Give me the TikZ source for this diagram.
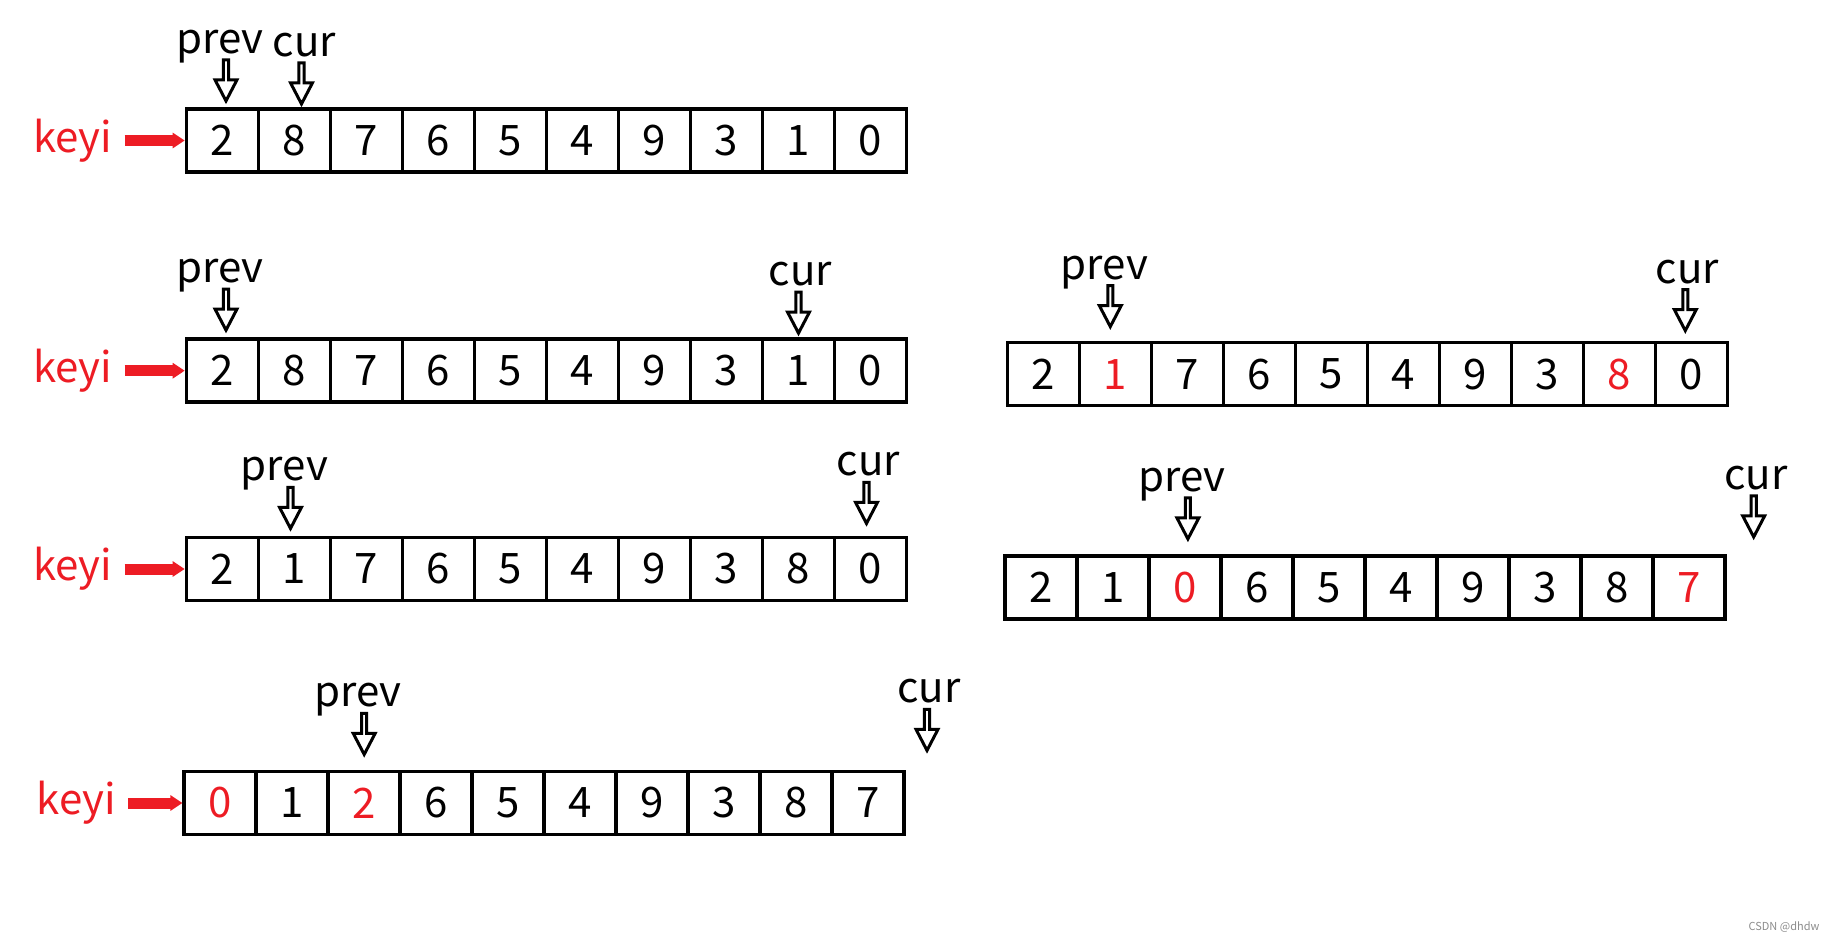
\documentclass[tikz,border=0pt]{standalone}
\usepackage{fontspec}
\setmainfont{Noto Sans CJK SC}
\usetikzlibrary{positioning,shapes.arrows,arrows.meta}
\definecolor{keyred}{RGB}{237,28,36}
\newcommand{\numfont}{\fontsize{21}{24}\selectfont}

\begin{document}
\begin{tikzpicture}[x=0.5pt,y=-0.5pt,
    cell/.style={draw, line width=1.8pt, minimum width=36pt, minimum height=31.5pt, inner sep=0pt, font=\numfont},
    ptr/.style={draw, line width=1.5pt, single arrow, shape border rotate=270, minimum height=20.5pt, minimum width=11pt, single arrow head extend=2.5pt, single arrow head indent=0pt, single arrow tip angle=55, inner sep=0pt, anchor=tip},
    lbl/.style={font=\numfont, anchor=base, inner sep=0pt},
    keylbl/.style={text=keyred, font=\numfont, inner sep=0pt},
    keyarr/.style={keyred, line width=5.5pt, -{Triangle[length=6pt,width=7.5pt]}, shorten <=6pt}]
  \useasboundingbox (0,0) rectangle (1828,941);

  % row 1
  \foreach \v/\c [count=\j from 0] in {2/black,8/black,7/black,6/black,5/black,4/black,9/black,3/black,1/black,0/black}
  {
    \node[cell, text=\c] (a\j) at (222.5+72*\j,140.5) {\v};
  }
  \node[keylbl, left=36pt of a0] (ka) {keyi};
  \draw[keyarr] (ka) -- (a0);
  \node[ptr] (pa) at ([xshift=1.75pt,yshift=1.5pt]a0.north) {};
  \node[ptr] (ca) at ([xshift=3.5pt]a1.north) {};
  \node[lbl] (pla) at ([xshift=-3pt,yshift=2.5pt]pa.tail) {prev};
  \node[lbl] (cla) at ([xshift=1.5pt,yshift=2.5pt]ca.tail) {cur};

  % row 2
  \foreach \v/\c [count=\j from 0] in {2/black,8/black,7/black,6/black,5/black,4/black,9/black,3/black,1/black,0/black}
  {
    \node[cell, text=\c] (b\j) at (222.5+72*\j,370.7) {\v};
  }
  \node[keylbl, left=36pt of b0] (kb) {keyi};
  \draw[keyarr] (kb) -- (b0);
  \node[ptr] (pb) at ([xshift=1.75pt,yshift=2pt]b0.north) {};
  \node[ptr] (cb) at ([yshift=0.5pt]b8.north) {};
  \node[lbl] (plb) at ([xshift=-3pt,yshift=2.5pt]pb.tail) {prev};
  \node[lbl] (clb) at ([xshift=1pt,yshift=2.5pt]cb.tail) {cur};

  % row 3
  \foreach \v/\c [count=\j from 0] in {2/black,1/black,7/black,6/black,5/black,4/black,9/black,3/black,8/black,0/black}
  {
    \node[cell, text=\c] (c\j) at (222.5+72*\j,569) {\v};
  }
  \node[keylbl, left=36pt of c0] (kc) {keyi};
  \draw[keyarr] (kc) -- (c0);
  \node[ptr] (pc) at ([xshift=-2pt,yshift=2pt]c1.north) {};
  \node[ptr] (cc) at ([xshift=-2pt,yshift=4.5pt]c9.north) {};
  \node[lbl] (plc) at ([xshift=-3pt,yshift=2.5pt]pc.tail) {prev};
  \node[lbl] (clc) at ([xshift=1pt,yshift=2.5pt]cc.tail) {cur};

  % row 4
  \foreach \v/\c [count=\j from 0] in {0/keyred,1/black,2/keyred,6/black,5/black,4/black,9/black,3/black,8/black,7/black}
  {
    \node[cell, text=\c] (d\j) at (220.2+72*\j,803) {\v};
  }
  \node[keylbl, left=33pt of d0] (kd) {keyi};
  \draw[keyarr] (kd) -- (d0);
  \node[ptr] (pd) at ([yshift=6pt]d2.north) {};
  \node[ptr] (cd) at ([xshift=10.5pt,yshift=8pt]d9.north east) {};
  \node[lbl] (pld) at ([xshift=-3pt,yshift=2.5pt]pd.tail) {prev};
  \node[lbl] (cld) at ([xshift=1pt,yshift=2.5pt]cd.tail) {cur};

  % right, top
  \foreach \v/\c [count=\j from 0] in {2/black,1/keyred,7/black,6/black,5/black,4/black,9/black,3/black,8/keyred,0/black}
  {
    \node[cell, text=\c] (e\j) at (1043.3+72*\j,374.2) {\v};
  }
  \node[ptr] (pe) at ([xshift=-2.5pt,yshift=5.5pt]e1.north) {};
  \node[ptr] (ce) at ([xshift=-3pt,yshift=3.5pt]e9.north) {};
  \node[lbl] (ple) at ([xshift=-3pt,yshift=2.5pt]pe.tail) {prev};
  \node[lbl] (cle) at ([xshift=1pt,yshift=2.5pt]ce.tail) {cur};

  % right, bottom
  \foreach \v/\c [count=\j from 0] in {2/black,1/black,0/keyred,6/black,5/black,4/black,9/black,3/black,8/black,7/keyred}
  {
    \node[cell, text=\c] (f\j) at (1040.9+72*\j,587.5) {\v};
  }
  \node[ptr] (pf) at ([xshift=1.5pt,yshift=6pt]f2.north) {};
  \node[ptr] (cf) at ([xshift=13.5pt,yshift=7pt]f9.north east) {};
  \node[lbl] (plf) at ([xshift=-3pt,yshift=2.5pt]pf.tail) {prev};
  \node[lbl] (clf) at ([xshift=1pt,yshift=2.5pt]cf.tail) {cur};

  \node[font=\fontsize{5.5}{6}\selectfont, text=black!45] (wm) at (1784,927) {CSDN @dhdw};
\end{tikzpicture}
\end{document}
